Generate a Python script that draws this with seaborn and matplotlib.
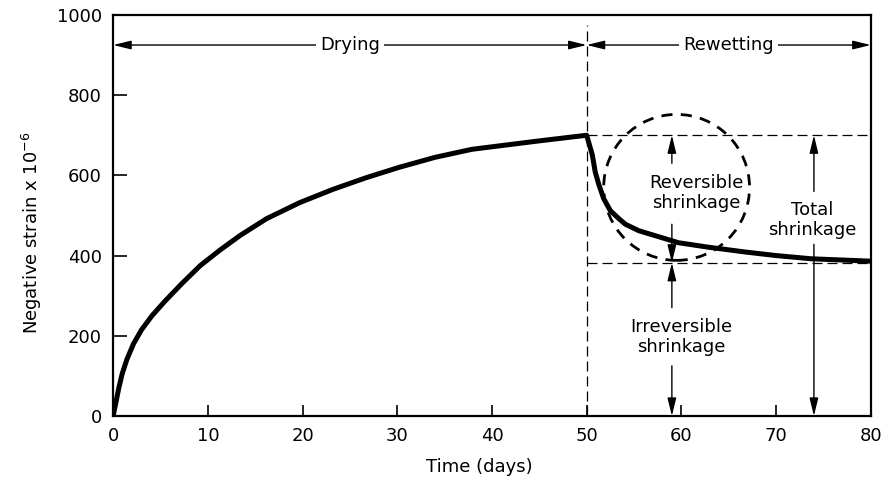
import numpy as np
import pandas as pd
import seaborn as sns
import matplotlib.pyplot as plt
from matplotlib.patches import Ellipse

# =============================================================================
# Data
# =============================================================================
days_dry = [0, 0.3, 0.6, 0.95, 1.45, 2.15, 3.0, 4.1, 5.5, 7.25, 9.2, 11.3,
            13.4, 16.2, 19.7, 23.2, 26.7, 30.2, 34, 37.9, 45, 50]
strain_dry = [0, 35, 70, 105, 141, 180, 215, 250, 287, 330, 375, 414,
              450, 492, 532, 565, 594, 620, 645, 665, 686, 700]

days_wet = [50, 50.6, 50.9, 51.3, 51.8, 52.5, 53.4, 54.1, 55.5, 57.6, 59.7,
            62.8, 66.7, 70, 73.7, 80]
strain_wet = [700, 651, 609, 576, 542, 512, 492, 478, 462, 447, 432,
              421, 409, 400, 392, 386]

phase_labels = ["Drying", "Rewetting"]
phase_bounds = [0, 50, 80]
total_level = 700
irreversible_level = 382

x_ticks = [0, 10, 20, 30, 40, 50, 60, 70, 80]
y_ticks = [0, 200, 400, 600, 800, 1000]

df = pd.DataFrame({
    "days": days_dry + days_wet[1:],
    "strain": strain_dry + strain_wet[1:],
})

# =============================================================================
# Plot
# =============================================================================
sns.set_style("ticks")
plt.rcParams['font.family'] = ['DejaVu Sans']
plt.rcParams['text.color'] = 'black'
plt.rcParams['axes.labelcolor'] = 'black'

fig = plt.figure(figsize=(8.84, 4.82), dpi=100)
ax = fig.add_axes([0.128, 0.137, 0.857, 0.832])

sns.lineplot(data=df, x="days", y="strain", color="black", lw=3.6,
             sort=False, ax=ax, solid_joinstyle="round")

ax.set_xlim(0, 80)
ax.set_ylim(0, 1000)
ax.set_xticks(x_ticks)
ax.set_yticks(y_ticks)
ax.tick_params(direction="in", length=10, width=1.2, labelsize=13, colors="black", pad=8)
ax.tick_params(axis="x", length=8)
for s in ax.spines.values():
    s.set_linewidth(1.6)
    s.set_color("black")

ax.set_xlabel("Time (days)", fontsize=13)
ax.set_ylabel("Negative strain x 10$^{-6}$", fontsize=13)
ax.xaxis.set_label_coords(0.483, -0.105)
ax.yaxis.set_label_coords(-0.091, 0.456)

# dashed guides
dash = dict(color="black", lw=0.9, ls=(0, (8, 4)))
ax.plot([50, 50], [0, 975], **dash)
ax.plot([50, 80], [total_level, total_level], **dash)
ax.plot([50, 80], [irreversible_level, irreversible_level], **dash)

# dashed circle around the reversible part
ax.add_patch(Ellipse((59.5, 570), 15.4, 364, fill=False, ec="black",
                     lw=2.0, ls=(0, (4, 3))))

arrow = dict(arrowstyle="-|>,head_length=0.9,head_width=0.22", color="black",
             lw=1.0, shrinkA=0, shrinkB=0, mutation_scale=12)
dbl = dict(arrowstyle="<|-|>,head_length=0.9,head_width=0.22", color="black",
           lw=1.0, shrinkA=0, shrinkB=0, mutation_scale=12)

# phase arrows
for i, lab in enumerate(phase_labels):
    x0, x1 = phase_bounds[i], phase_bounds[i + 1]
    ax.annotate("", xy=(x0, 925), xytext=(x1, 925), arrowprops=dbl)
    ax.text((x0 + x1) / 2, 925, lab, ha="center", va="center", fontsize=13,
            bbox=dict(fc="white", ec="none", pad=3))

# reversible shrinkage
ax.annotate("", xy=(59, total_level), xytext=(59, 630), arrowprops=arrow)
ax.annotate("", xy=(59, irreversible_level), xytext=(59, 478), arrowprops=arrow)
ax.text(61.6, 555, "Reversible\nshrinkage", ha="center", va="center",
        fontsize=13, linespacing=1.15)

# irreversible shrinkage
ax.annotate("", xy=(59, irreversible_level), xytext=(59, 270), arrowprops=arrow)
ax.annotate("", xy=(59, 0), xytext=(59, 125), arrowprops=arrow)
ax.text(60, 196, "Irreversible\nshrinkage", ha="center", va="center",
        fontsize=13, linespacing=1.15)

# total shrinkage
ax.annotate("", xy=(74, total_level), xytext=(74, 560), arrowprops=arrow)
ax.annotate("", xy=(74, 0), xytext=(74, 428), arrowprops=arrow)
ax.text(73.8, 489, "Total\nshrinkage", ha="center", va="center",
        fontsize=13, linespacing=1.15)

fig.savefig("out.png", dpi=100)
